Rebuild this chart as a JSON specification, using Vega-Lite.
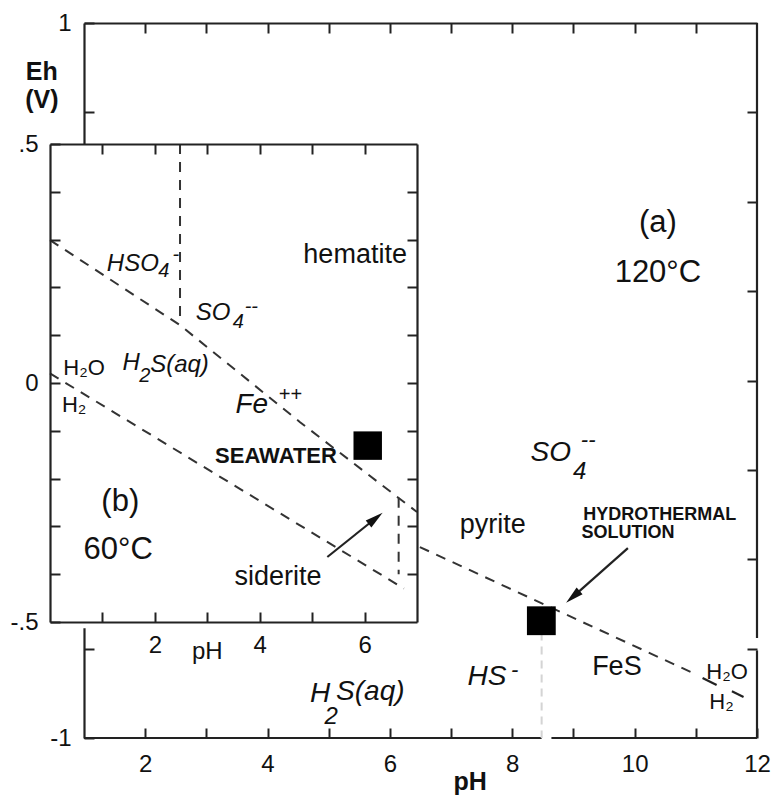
{
  "$schema": "https://vega.github.io/schema/vega-lite/v6.json",
  "width": 673,
  "height": 715,
  "autosize": {"type": "none"},
  "padding": {"left": 84, "top": 23, "right": 16, "bottom": 57},
  "background": "white",
  "config": {"view": {"stroke": null}, "axis": {"labelFont": "Liberation Sans"}, "text": {"font": "Liberation Sans"}},
  "datasets": {
    "oFrame": [
      {"x": 12, "y": 1, "x2": 12, "y2": -0.72},
      {"x": 12, "y": -0.755, "x2": 12, "y2": -1},
      {"x": 1, "y": -1, "x2": 8.48, "y2": -1},
      {"x": 8.64, "y": -1, "x2": 12, "y2": -1}
    ],
    "oLine": [{"i": 1, "x": 6.49, "y": -0.466}, {"i": 2, "x": 10.95, "y": -0.818}],
    "oFaint": [{"x": 8.48, "y": -0.705, "y2": -1}],
    "oSeg": [
      {"seg": "m1", "i": 1, "x": 11.11, "y": -0.832}, {"seg": "m1", "i": 2, "x": 11.34, "y": -0.852},
      {"seg": "m2", "i": 1, "x": 11.59, "y": -0.869}, {"seg": "m2", "i": 2, "x": 11.78, "y": -0.885},
      {"seg": "arrow", "i": 1, "x": 9.89, "y": -0.469}, {"seg": "arrow", "i": 2, "x": 9.0, "y": -0.604}
    ],
    "oHead": [{"x": 8.99, "y": -0.605}],
    "oSq": [{"x": 8.475, "y": -0.672}],
    "oText": [
      {"kind": "big", "text": "(a)", "x": 10.38, "y": 0.44},
      {"kind": "big", "text": "120°C", "x": 10.38, "y": 0.30},
      {"kind": "min", "text": "pyrite", "x": 7.68, "y": -0.404},
      {"kind": "min", "text": "FeS", "x": 9.71, "y": -0.80},
      {"kind": "ital", "text": "SO", "x": 8.63, "y": -0.203},
      {"kind": "sub", "text": "4", "x": 9.10, "y": -0.256},
      {"kind": "sup", "text": "--", "x": 9.24, "y": -0.166},
      {"kind": "ital", "text": "HS", "x": 7.585, "y": -0.829},
      {"kind": "sup", "text": "-", "x": 8.04, "y": -0.81},
      {"kind": "ital", "text": "H", "x": 4.86, "y": -0.8775},
      {"kind": "sub", "text": "2", "x": 5.04, "y": -0.942},
      {"kind": "ital", "text": "S(aq)", "x": 5.68, "y": -0.871},
      {"kind": "bold", "text": "HYDROTHERMAL", "x": 10.41, "y": -0.376},
      {"kind": "bold", "text": "SOLUTION", "x": 9.89, "y": -0.427},
      {"kind": "title", "text": "Eh", "x": 0.31, "y": 0.863},
      {"kind": "title", "text": "(V)", "x": 0.31, "y": 0.785},
      {"kind": "title", "text": "pH", "x": 7.31, "y": -1.123},
      {"kind": "water", "text": "H₂O", "x": 11.51, "y": -0.815},
      {"kind": "water", "text": "H₂", "x": 11.42, "y": -0.899}
    ],
    "iBox": [{"x": 0, "x2": 7, "y": -0.513, "y2": 0.5}],
    "iLine": [
      {"line": "a", "i": 1, "x": 0, "y": 0.299}, {"line": "a", "i": 2, "x": 2.48, "y": 0.121},
      {"line": "a", "i": 3, "x": 4.77, "y": -0.082}, {"line": "a", "i": 4, "x": 7, "y": -0.27},
      {"line": "b", "i": 1, "x": 2.48, "y": 0.5}, {"line": "b", "i": 2, "x": 2.48, "y": 0.135},
      {"line": "c", "i": 1, "x": 0, "y": 0.02}, {"line": "c", "i": 2, "x": 6.75, "y": -0.43},
      {"line": "d", "i": 1, "x": 6.65, "y": -0.24}, {"line": "d", "i": 2, "x": 6.65, "y": -0.40}
    ],
    "iArrow": [{"i": 1, "x": 5.29, "y": -0.364}, {"i": 2, "x": 6.2, "y": -0.284}],
    "iHead": [{"x": 6.21, "y": -0.283}],
    "iSq": [{"x": 6.06, "y": -0.131}],
    "iText": [
      {"kind": "big", "text": "(b)", "x": 1.34, "y": -0.249},
      {"kind": "big", "text": "60°C", "x": 1.30, "y": -0.349},
      {"kind": "min", "text": "hematite", "x": 5.82, "y": 0.268},
      {"kind": "min", "text": "siderite", "x": 4.35, "y": -0.406},
      {"kind": "ital", "text": "HSO", "x": 1.58, "y": 0.249},
      {"kind": "sub", "text": "4", "x": 2.17, "y": 0.234},
      {"kind": "sup", "text": "-", "x": 2.40, "y": 0.268},
      {"kind": "ital", "text": "SO", "x": 3.11, "y": 0.146},
      {"kind": "sub", "text": "4", "x": 3.59, "y": 0.128},
      {"kind": "sup", "text": "--", "x": 3.84, "y": 0.159},
      {"kind": "ital", "text": "H", "x": 1.55, "y": 0.042},
      {"kind": "sub", "text": "2", "x": 1.81, "y": 0.014},
      {"kind": "ital", "text": "S(aq)", "x": 2.47, "y": 0.038},
      {"kind": "fe", "text": "Fe", "x": 3.85, "y": -0.046},
      {"kind": "sup", "text": "++", "x": 4.58, "y": -0.025},
      {"kind": "bold", "text": "SEAWATER", "x": 4.31, "y": -0.153},
      {"kind": "water", "text": "H₂O", "x": 0.65, "y": 0.031},
      {"kind": "water", "text": "H₂", "x": 0.46, "y": -0.046},
      {"kind": "axt", "text": "pH", "x": 3.0, "y": -0.563}
    ]
  },
  "layer": [
    {
      "encoding": {
        "x": {"field": "x", "type": "quantitative", "scale": {"domain": [1, 12], "nice": false, "zero": false}, "axis": null},
        "y": {"field": "y", "type": "quantitative", "scale": {"domain": [-1, 1], "nice": false, "zero": false}, "axis": null}
      },
      "layer": [
        {
          "data": {"name": "oFrame"},
          "mark": {"type": "rule", "stroke": "#222", "strokeWidth": 2.2},
          "encoding": {
            "x": {"field": "x", "type": "quantitative", "scale": {"domain": [1, 12], "nice": false, "zero": false},
              "axis": {"orient": "bottom", "values": [2, 3, 4, 5, 6, 7, 8, 9, 10, 11, 12], "labelExpr": "datum.value % 2 == 0 ? '' + datum.value : ''", "grid": false, "domain": false, "tickSize": -10, "tickWidth": 2, "tickColor": "#222", "labelPadding": 24, "labelFontSize": 24, "labelColor": "#111", "labelFlush": false, "labelOverlap": false, "title": null, "zindex": 0}},
            "x2": {"field": "x2"},
            "y": {"field": "y", "type": "quantitative", "scale": {"domain": [-1, 1], "nice": false, "zero": false},
              "axis": {"orient": "left", "values": [-1, -0.75, -0.5, -0.25, 0, 0.25, 0.5, 0.75, 1], "labelExpr": "datum.value == 1 ? '1' : (datum.value == -1 ? '-1' : '')", "grid": false, "domain": true, "domainColor": "#222", "domainWidth": 2.2, "tickSize": -10, "tickWidth": 2, "tickColor": "#222", "labelPadding": 23, "labelFontSize": 24, "labelColor": "#111", "labelFlush": false, "labelOverlap": false, "title": null, "zindex": 0}},
            "y2": {"field": "y2"}
          }
        },
        {
          "data": {"name": "oLine"},
          "mark": {"type": "line", "stroke": "#333", "strokeWidth": 2, "strokeDash": [10, 8]},
          "encoding": {
            "x": {"field": "x", "type": "quantitative", "scale": {"domain": [1, 12], "nice": false, "zero": false},
              "axis": {"orient": "top", "values": [2, 3, 4, 5, 6, 7, 8, 9, 10, 11], "labels": false, "grid": false, "domain": true, "domainColor": "#222", "domainWidth": 2.2, "tickSize": -10, "tickWidth": 2, "tickColor": "#222", "title": null, "zindex": 0}},
            "y": {"field": "y", "type": "quantitative", "scale": {"domain": [-1, 1], "nice": false, "zero": false},
              "axis": {"orient": "right", "values": [-0.75, -0.5, -0.25, 0, 0.25, 0.5, 0.75], "labels": false, "grid": false, "domain": false, "tickSize": -10, "tickWidth": 2, "tickColor": "#222", "title": null, "zindex": 0}},
            "order": {"field": "i"}
          }
        },
        {
          "data": {"name": "oFaint"},
          "mark": {"type": "rule", "stroke": "#d4d4d4", "strokeWidth": 2, "strokeDash": [8, 6]},
          "encoding": {"y2": {"field": "y2"}}
        },
        {
          "data": {"name": "oSeg"},
          "mark": {"type": "line", "stroke": "#222", "strokeWidth": 2.2},
          "encoding": {"detail": {"field": "seg"}, "order": {"field": "i"}}
        },
        {
          "data": {"name": "oHead"},
          "mark": {"type": "point", "shape": "M0,-1L0.5,1L-0.5,1Z", "filled": true, "fill": "#111", "opacity": 1, "size": 324, "angle": 228.5}
        },
        {
          "data": {"name": "oSq"},
          "mark": {"type": "point", "shape": "square", "filled": true, "fill": "#000", "opacity": 1, "size": 830}
        },
        {
          "data": {"name": "oText"}, "transform": [{"filter": "datum.kind == 'big'"}],
          "mark": {"type": "text", "fontSize": 31, "color": "#111", "align": "center", "baseline": "middle"},
          "encoding": {"text": {"field": "text"}}
        },
        {
          "data": {"name": "oText"}, "transform": [{"filter": "datum.kind == 'min'"}],
          "mark": {"type": "text", "fontSize": 27, "color": "#111", "align": "center", "baseline": "middle"},
          "encoding": {"text": {"field": "text"}}
        },
        {
          "data": {"name": "oText"}, "transform": [{"filter": "datum.kind == 'ital'"}],
          "mark": {"type": "text", "fontSize": 28, "fontStyle": "italic", "color": "#111", "align": "center", "baseline": "middle"},
          "encoding": {"text": {"field": "text"}}
        },
        {
          "data": {"name": "oText"}, "transform": [{"filter": "datum.kind == 'sub'"}],
          "mark": {"type": "text", "fontSize": 24, "fontStyle": "italic", "color": "#111", "align": "center", "baseline": "middle"},
          "encoding": {"text": {"field": "text"}}
        },
        {
          "data": {"name": "oText"}, "transform": [{"filter": "datum.kind == 'sup'"}],
          "mark": {"type": "text", "fontSize": 22, "fontStyle": "italic", "color": "#111", "align": "center", "baseline": "middle"},
          "encoding": {"text": {"field": "text"}}
        },
        {
          "data": {"name": "oText"}, "transform": [{"filter": "datum.kind == 'bold'"}],
          "mark": {"type": "text", "fontSize": 18, "fontWeight": "bold", "color": "#111", "align": "center", "baseline": "middle"},
          "encoding": {"text": {"field": "text"}}
        },
        {
          "data": {"name": "oText"}, "transform": [{"filter": "datum.kind == 'title'"}],
          "mark": {"type": "text", "fontSize": 25, "fontWeight": "bold", "color": "#111", "align": "center", "baseline": "middle"},
          "encoding": {"text": {"field": "text"}}
        },
        {
          "data": {"name": "oText"}, "transform": [{"filter": "datum.kind == 'water'"}],
          "mark": {"type": "text", "fontSize": 22, "color": "#111", "align": "center", "baseline": "middle"},
          "encoding": {"text": {"field": "text"}}
        }
      ],
      "resolve": {"axis": {"x": "independent", "y": "independent"}}
    },
    {
      "encoding": {
        "x": {"field": "x", "type": "quantitative", "scale": {"domain": [0, 7], "range": [-34, 333], "nice": false, "zero": false}, "axis": null},
        "y": {"field": "y", "type": "quantitative", "scale": {"domain": [-0.5, 0.5], "range": [599, 121], "nice": false, "zero": false}, "axis": null}
      },
      "layer": [
        {
          "data": {"name": "iBox"},
          "mark": {"type": "rect", "fill": "white", "stroke": null, "opacity": 1},
          "encoding": {
            "x": {"field": "x", "type": "quantitative", "scale": {"domain": [0, 7], "range": [-34, 333], "nice": false, "zero": false},
              "axis": {"orient": "bottom", "offset": -116, "values": [1, 2, 3, 4, 5, 6], "labelExpr": "datum.value % 2 == 0 ? '' + datum.value : ''", "grid": false, "domain": true, "domainColor": "#222", "domainWidth": 2.2, "tickSize": -10, "tickWidth": 2, "tickColor": "#222", "labelPadding": 21, "labelFontSize": 24, "labelColor": "#111", "labelFlush": false, "labelOverlap": false, "title": null, "zindex": 1}},
            "x2": {"field": "x2"},
            "y": {"field": "y", "type": "quantitative", "scale": {"domain": [-0.5, 0.5], "range": [599, 121], "nice": false, "zero": false},
              "axis": {"orient": "left", "offset": 34, "values": [-0.5, -0.4, -0.3, -0.2, -0.1, 0, 0.1, 0.2, 0.3, 0.4, 0.5], "labelExpr": "datum.value == 0.5 ? '.5' : (datum.value == 0 ? '0' : (datum.value == -0.5 ? '-.5' : ''))", "grid": false, "domain": true, "domainColor": "#222", "domainWidth": 2.2, "tickSize": -10, "tickWidth": 2, "tickColor": "#222", "labelPadding": 22, "labelFontSize": 24, "labelColor": "#111", "labelFlush": false, "labelOverlap": false, "title": null, "zindex": 1}},
            "y2": {"field": "y2"}
          }
        },
        {
          "data": {"name": "iLine"},
          "mark": {"type": "line", "stroke": "#333", "strokeWidth": 2, "strokeDash": [10, 8]},
          "encoding": {
            "x": {"field": "x", "type": "quantitative", "scale": {"domain": [0, 7], "range": [-34, 333], "nice": false, "zero": false},
              "axis": {"orient": "top", "offset": -121, "values": [1, 2, 3, 4, 5, 6], "labels": false, "grid": false, "domain": true, "domainColor": "#222", "domainWidth": 2.2, "tickSize": -10, "tickWidth": 2, "tickColor": "#222", "title": null, "zindex": 1}},
            "y": {"field": "y", "type": "quantitative", "scale": {"domain": [-0.5, 0.5], "range": [599, 121], "nice": false, "zero": false},
              "axis": {"orient": "right", "offset": -340, "values": [-0.4, -0.3, -0.2, -0.1, 0, 0.1, 0.2, 0.3, 0.4], "labels": false, "grid": false, "domain": true, "domainColor": "#222", "domainWidth": 2.2, "tickSize": -10, "tickWidth": 2, "tickColor": "#222", "title": null, "zindex": 1}},
            "detail": {"field": "line"},
            "order": {"field": "i"}
          }
        },
        {
          "data": {"name": "iArrow"},
          "mark": {"type": "line", "stroke": "#222", "strokeWidth": 2.2},
          "encoding": {"order": {"field": "i"}}
        },
        {
          "data": {"name": "iHead"},
          "mark": {"type": "point", "shape": "M0,-1L0.5,1L-0.5,1Z", "filled": true, "fill": "#111", "opacity": 1, "size": 324, "angle": 51.3}
        },
        {
          "data": {"name": "iSq"},
          "mark": {"type": "point", "shape": "square", "filled": true, "fill": "#000", "opacity": 1, "size": 810}
        },
        {
          "data": {"name": "iText"}, "transform": [{"filter": "datum.kind == 'big'"}],
          "mark": {"type": "text", "fontSize": 31, "color": "#111", "align": "center", "baseline": "middle"},
          "encoding": {"text": {"field": "text"}}
        },
        {
          "data": {"name": "iText"}, "transform": [{"filter": "datum.kind == 'min'"}],
          "mark": {"type": "text", "fontSize": 27, "color": "#111", "align": "center", "baseline": "middle"},
          "encoding": {"text": {"field": "text"}}
        },
        {
          "data": {"name": "iText"}, "transform": [{"filter": "datum.kind == 'ital'"}],
          "mark": {"type": "text", "fontSize": 24, "fontStyle": "italic", "color": "#111", "align": "center", "baseline": "middle"},
          "encoding": {"text": {"field": "text"}}
        },
        {
          "data": {"name": "iText"}, "transform": [{"filter": "datum.kind == 'sub'"}],
          "mark": {"type": "text", "fontSize": 20, "fontStyle": "italic", "color": "#111", "align": "center", "baseline": "middle"},
          "encoding": {"text": {"field": "text"}}
        },
        {
          "data": {"name": "iText"}, "transform": [{"filter": "datum.kind == 'sup'"}],
          "mark": {"type": "text", "fontSize": 20, "fontStyle": "italic", "color": "#111", "align": "center", "baseline": "middle"},
          "encoding": {"text": {"field": "text"}}
        },
        {
          "data": {"name": "iText"}, "transform": [{"filter": "datum.kind == 'fe'"}],
          "mark": {"type": "text", "fontSize": 28, "fontStyle": "italic", "color": "#111", "align": "center", "baseline": "middle"},
          "encoding": {"text": {"field": "text"}}
        },
        {
          "data": {"name": "iText"}, "transform": [{"filter": "datum.kind == 'bold'"}],
          "mark": {"type": "text", "fontSize": 22, "fontWeight": "bold", "color": "#111", "align": "center", "baseline": "middle"},
          "encoding": {"text": {"field": "text"}}
        },
        {
          "data": {"name": "iText"}, "transform": [{"filter": "datum.kind == 'water'"}],
          "mark": {"type": "text", "fontSize": 22, "color": "#111", "align": "center", "baseline": "middle"},
          "encoding": {"text": {"field": "text"}}
        },
        {
          "data": {"name": "iText"}, "transform": [{"filter": "datum.kind == 'axt'"}],
          "mark": {"type": "text", "fontSize": 24, "color": "#111", "align": "center", "baseline": "middle"},
          "encoding": {"text": {"field": "text"}}
        }
      ],
      "resolve": {"axis": {"x": "independent", "y": "independent"}}
    }
  ],
  "resolve": {"scale": {"x": "independent", "y": "independent"}, "axis": {"x": "independent", "y": "independent"}}
}
